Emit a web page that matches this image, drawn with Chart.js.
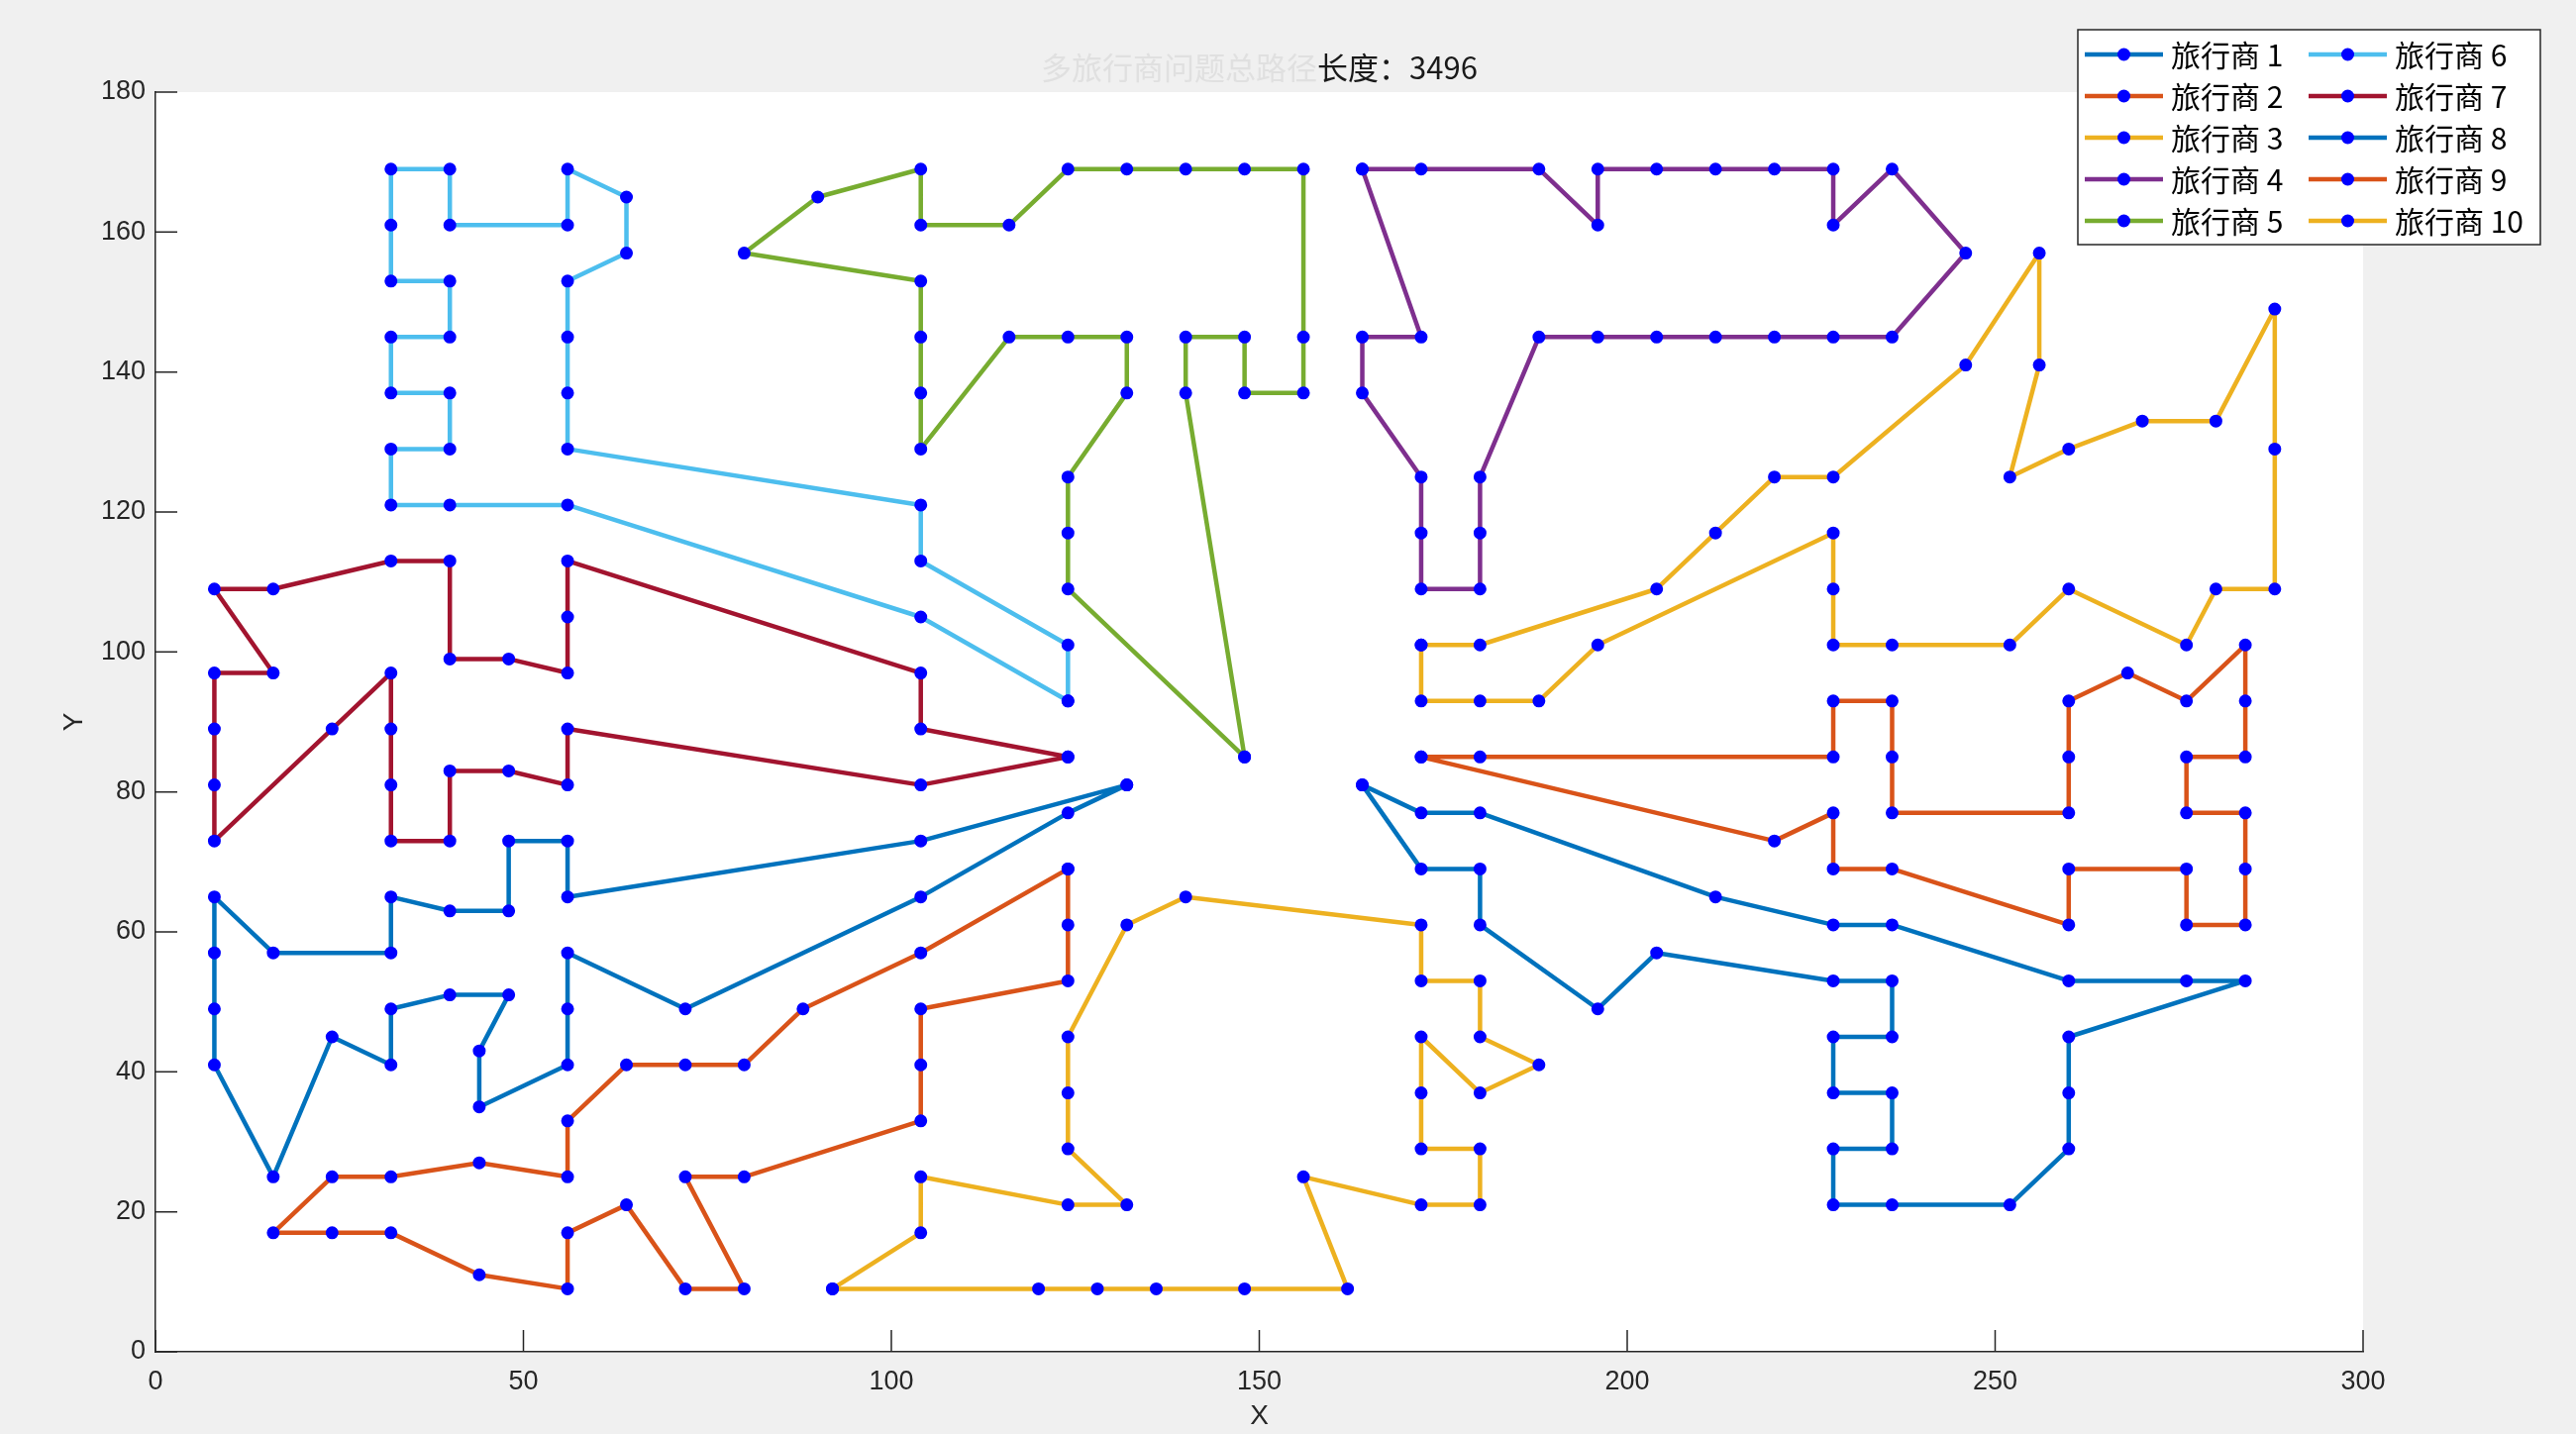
<!DOCTYPE html>
<html lang="zh">
<head>
    <meta charset="UTF-8">
    <title>多旅行商路径</title>
    <script src="https://cdn.jsdelivr.net/npm/chart.js@4.4.0/dist/chart.umd.js"></script>
    <style>
        html, body { margin: 0; padding: 0; background: #f0f0f0; overflow: hidden; }
        #wrap { width: 2601px; height: 1448px; }
        canvas { display: block; }
    </style>
</head>
<body>
<div id="wrap"><canvas id="tspChart" width="2601" height="1448"></canvas></div>
<script>
// traveler names (legend)
const travelerLabels = ['旅行商 1', '旅行商 2', '旅行商 3', '旅行商 4', '旅行商 5',
                        '旅行商 6', '旅行商 7', '旅行商 8', '旅行商 9', '旅行商 10'];

// each route as [x, y] city coordinates, in visiting order (closed loops)
const route1 = [[132,81],[104,73],[56,65],[56,73],[48,73],[48,63],[40,63],[32,65],[32,57],[16,57],
    [8,65],[8,57],[8,49],[8,41],[16,25],[24,45],[32,41],[32,49],[40,51],[48,51],[44,43],[44,35],
    [56,41],[56,49],[56,57],[72,49],[104,65],[124,77],[132,81]];
const route2 = [[124,69],[104,57],[88,49],[80,41],[72,41],[64,41],[56,33],[56,25],[44,27],[32,25],
    [24,25],[16,17],[24,17],[32,17],[44,11],[56,9],[56,17],[64,21],[72,9],[80,9],[72,25],[80,25],
    [104,33],[104,41],[104,49],[124,53],[124,61],[124,69]];
const route3 = [[92,9],[104,17],[104,25],[124,21],[132,21],[124,29],[124,37],[124,45],[132,61],
    [140,65],[172,61],[172,53],[180,53],[180,45],[188,41],[180,37],[172,45],[172,37],[172,29],
    [180,29],[180,21],[172,21],[156,25],[162,9],[148,9],[136,9],[128,9],[120,9],[92,9]];
const route4 = [[164,169],[172,169],[188,169],[196,161],[196,169],[204,169],[212,169],[220,169],
    [228,169],[228,161],[236,169],[246,157],[236,145],[228,145],[220,145],[212,145],[204,145],
    [196,145],[188,145],[180,125],[180,117],[180,109],[172,109],[172,117],[172,125],[164,137],
    [164,145],[172,145],[164,169]];
const route5 = [[148,85],[124,109],[124,117],[124,125],[132,137],[132,145],[124,145],[116,145],
    [104,129],[104,137],[104,145],[104,153],[80,157],[90,165],[104,169],[104,161],[116,161],
    [124,169],[132,169],[140,169],[148,169],[156,169],[156,145],[156,137],[148,137],[148,145],
    [140,145],[140,137],[148,85]];
const route6 = [[124,93],[124,101],[104,113],[104,121],[56,129],[56,137],[56,145],[56,153],[64,157],
    [64,165],[56,169],[56,161],[40,161],[40,169],[32,169],[32,161],[32,153],[40,153],[40,145],
    [32,145],[32,137],[40,137],[40,129],[32,129],[32,121],[40,121],[56,121],[104,105],[124,93]];
const route7 = [[124,85],[104,89],[104,97],[56,113],[56,105],[56,97],[48,99],[40,99],[40,113],
    [32,113],[16,109],[8,109],[16,97],[8,97],[8,89],[8,81],[8,73],[24,89],[32,97],[32,89],[32,81],
    [32,73],[40,73],[40,83],[48,83],[56,81],[56,89],[104,81],[124,85]];
const route8 = [[164,81],[172,77],[180,77],[212,65],[228,61],[236,61],[260,53],[276,53],[284,53],
    [260,45],[260,37],[260,29],[252,21],[236,21],[228,21],[228,29],[236,29],[236,37],[228,37],
    [228,45],[236,45],[236,53],[228,53],[204,57],[196,49],[180,61],[180,69],[172,69],[164,81]];
const route9 = [[172,85],[180,85],[228,85],[228,93],[236,93],[236,85],[236,77],[260,77],[260,85],
    [260,93],[268,97],[276,93],[284,101],[284,93],[284,85],[276,85],[276,77],[284,77],[284,69],
    [284,61],[276,61],[276,69],[260,69],[260,61],[236,69],[228,69],[228,77],[220,73],[172,85]];
const route10 = [[172,101],[180,101],[204,109],[212,117],[220,125],[228,125],[246,141],[256,157],
    [256,141],[252,125],[260,129],[270,133],[280,133],[288,149],[288,129],[288,109],[280,109],
    [276,101],[260,109],[252,101],[236,101],[228,101],[228,109],[228,117],[196,101],[188,93],
    [180,93],[172,93],[172,101]];

const routes = [route1, route2, route3, route4, route5, route6, route7, route8, route9, route10];
const routeColors = ['#0072BD', '#D95319', '#EDB120', '#7E2F8E', '#77AC30',
                     '#4DBEEE', '#A2142F', '#0072BD', '#D95319', '#EDB120'];

const xTicks = [0, 50, 100, 150, 200, 250, 300];
const yTicks = [0, 20, 40, 60, 80, 100, 120, 140, 160, 180];

const titleFaded = '多旅行商问题总路径';
const titleMain = '长度：3496';

const W = 2601, H = 1448;
const AXIS = '#262626';
const CJK = '"Noto Sans CJK SC", "Noto Sans", sans-serif';
const LATIN = '"Liberation Sans", Arial, sans-serif';

// grey figure, white axes
const backdrop = {
    id: 'backdrop',
    beforeDraw(chart) {
        const { ctx, chartArea: a } = chart;
        ctx.save();
        ctx.fillStyle = '#f0f0f0';
        ctx.fillRect(0, 0, W, H);
        ctx.fillStyle = '#ffffff';
        ctx.fillRect(a.left, a.top, a.right - a.left, a.bottom - a.top);
        ctx.restore();
    }
};

// MATLAB style ticks pointing into the axes
const inwardTicks = {
    id: 'inwardTicks',
    afterDraw(chart) {
        const { ctx, chartArea: a, scales } = chart;
        ctx.save();
        ctx.strokeStyle = AXIS;
        ctx.lineWidth = 1.5;
        ctx.beginPath();
        xTicks.forEach(v => {
            const px = scales.x.getPixelForValue(v);
            ctx.moveTo(px, a.bottom);
            ctx.lineTo(px, a.bottom - 22);
        });
        yTicks.forEach(v => {
            const py = scales.y.getPixelForValue(v);
            ctx.moveTo(a.left, py);
            ctx.lineTo(a.left + 22, py);
        });
        ctx.stroke();
        ctx.restore();
    }
};

// title, the first part washed out as in the screenshot
const fadedTitle = {
    id: 'fadedTitle',
    afterDraw(chart) {
        const { ctx, chartArea: a } = chart;
        ctx.save();
        ctx.font = '31px ' + CJK;
        ctx.textBaseline = 'middle';
        ctx.textAlign = 'left';
        const w1 = ctx.measureText(titleFaded).width;
        const w2 = ctx.measureText(titleMain).width;
        const x0 = (a.left + a.right) / 2 - (w1 + w2) / 2;
        ctx.fillStyle = '#e0e0e0';
        ctx.fillText(titleFaded, x0, 68);
        ctx.fillStyle = '#1a1a1a';
        ctx.fillText(titleMain, x0 + w1, 68);
        ctx.restore();
    }
};

// two-column legend, filled column by column
const columnLegend = {
    id: 'columnLegend',
    afterDraw(chart) {
        const ctx = chart.ctx;
        const L = 2098, T = 30, R = 2565, B = 247;
        ctx.save();
        ctx.fillStyle = '#ffffff';
        ctx.fillRect(L, T, R - L, B - T);
        ctx.strokeStyle = AXIS;
        ctx.lineWidth = 1.5;
        ctx.strokeRect(L, T, R - L, B - T);
        chart.data.datasets.forEach((d, i) => {
            const col = Math.floor(i / 5), row = i % 5;
            const x0 = 2105 + col * 226;
            const yc = 55 + row * 42;
            ctx.strokeStyle = d.borderColor;
            ctx.lineWidth = d.borderWidth;
            ctx.beginPath();
            ctx.moveTo(x0, yc);
            ctx.lineTo(x0 + 79, yc);
            ctx.stroke();
            ctx.beginPath();
            ctx.arc(x0 + 39.5, yc, 6.5, 0, Math.PI * 2);
            ctx.fillStyle = '#0000ff';
            ctx.fill();
            ctx.fillStyle = '#000000';
            ctx.font = '30px ' + CJK;
            ctx.textBaseline = 'middle';
            ctx.textAlign = 'left';
            ctx.fillText(d.label, x0 + 87, yc + 1);
        });
        ctx.restore();
    }
};

const datasets = routes.map((r, i) => ({
    label: travelerLabels[i],
    data: r.map(p => ({ x: p[0], y: p[1] })),
    showLine: true,
    borderColor: routeColors[i],
    borderWidth: 4.5,
    borderJoinStyle: 'round',
    tension: 0,
    pointRadius: 5.5,
    pointHoverRadius: 5.5,
    pointBorderWidth: 2,
    pointBackgroundColor: '#0000ff',
    pointBorderColor: '#0000ff',
    order: routes.length - i
}));

const ctx = document.getElementById('tspChart').getContext('2d');
new Chart(ctx, {
    type: 'scatter',
    data: { datasets: datasets },
    options: {
        responsive: false,
        devicePixelRatio: 1,
        animation: false,
        layout: { padding: { left: 0, top: 93, right: W - 2386, bottom: 0 } },
        plugins: {
            legend: { display: false },
            tooltip: { enabled: false },
            title: { display: false }
        },
        scales: {
            x: {
                type: 'linear',
                min: 0, max: 300,
                afterBuildTicks: s => { s.ticks = xTicks.map(v => ({ value: v })); },
                afterFit: s => { s.height = H - 1365; },
                ticks: {
                    color: AXIS, padding: 14, maxRotation: 0, autoSkip: false,
                    font: { family: LATIN, size: 27 }
                },
                grid: { display: false, drawTicks: false },
                border: { display: true, color: AXIS, width: 1.5 },
                title: {
                    display: true, text: 'X', color: AXIS,
                    font: { family: LATIN, size: 28 },
                    padding: { top: 0, bottom: 1 }
                }
            },
            y: {
                type: 'linear',
                min: 0, max: 180,
                afterBuildTicks: s => { s.ticks = yTicks.map(v => ({ value: v })); },
                afterFit: s => { s.width = 157; },
                ticks: {
                    color: AXIS, padding: 10, autoSkip: false,
                    font: { family: LATIN, size: 27 }
                },
                grid: { display: false, drawTicks: false },
                border: { display: true, color: AXIS, width: 1.5 },
                title: {
                    display: true, text: 'Y', color: AXIS,
                    font: { family: LATIN, size: 28 },
                    padding: { top: 58, bottom: 0 }
                }
            }
        }
    },
    plugins: [backdrop, inwardTicks, fadedTitle, columnLegend]
});
</script>
</body>
</html>
